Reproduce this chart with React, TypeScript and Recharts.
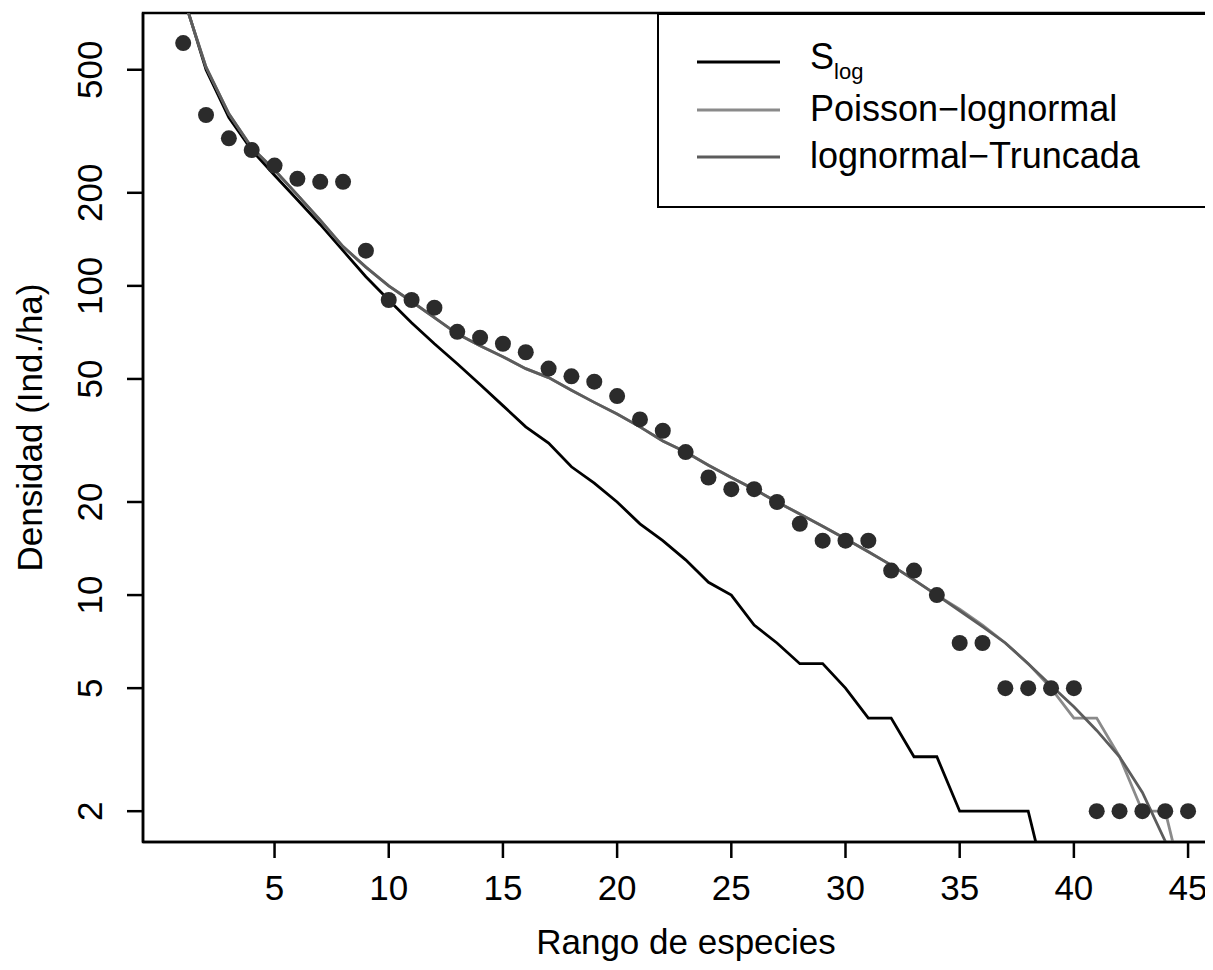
import React from 'react';
import { ComposedChart, Line, XAxis, YAxis, ReferenceArea, Legend } from 'recharts';

const ranks = [1, 2, 3, 4, 5, 6, 7, 8, 9, 10, 11, 12, 13, 14, 15, 16, 17, 18, 19, 20, 21, 22, 23, 24, 25, 26, 27, 28, 29, 30, 31, 32, 33, 34, 35, 36, 37, 38, 39, 40, 41, 42, 43, 44, 45];
const observed = [610, 357, 300, 275, 245, 222, 217, 217, 130, 90, 90, 85, 71, 68, 65, 61, 54, 51, 49, 44, 37, 34, 29, 24, 22, 22, 20, 17, 15, 15, 15, 12, 12, 10, 7, 7, 5, 5, 5, 5, 2, 2, 2, 2, 2];
const sLog = [870, 500, 350, 275, 228, 190, 158, 130, 107, 90, 76, 65, 56, 48, 41, 35, 31, 26, 23, 20, 17, 15, 13, 11, 10, 8, 7, 6, 6, 5, 4, 4, 3, 3, 2, 2, 2, 2, 1, 1, 1, 1, 1, 1, 1];
const poissonLognormal = [860, 510, 360, 280, 237, 197, 163, 134, 115, 100, 89, 79, 70, 64, 59, 54, 50.5, 46, 42, 38.5, 35, 31.5, 29, 26.3, 24, 22, 20, 18.3, 16.7, 15.2, 13.8, 12.5, 11.2, 10, 9, 8, 7, 6, 5, 4, 4, 3, 2, 2, 1];
const lognormalTruncada = [860, 510, 360, 280, 237, 197, 163, 134, 115, 100, 89, 79, 70, 64, 59, 54, 50.5, 46, 42, 38.5, 35, 31.5, 29, 26.3, 24, 22, 20, 18.3, 16.7, 15.2, 13.8, 12.5, 11.2, 10, 8.9, 7.9, 7.0, 6.0, 5.1, 4.35, 3.65, 3.0, 2.3, 1.6, 0.8];
const xTicks = [5, 10, 15, 20, 25, 30, 35, 40, 45];
const yTicks = [2, 5, 10, 20, 50, 100, 200, 500];

const data = ranks.map((r, i) => ({
  rank: r,
  obs: observed[i],
  slog: sLog[i],
  pln: poissonLognormal[i],
  lnt: lognormalTruncada[i],
}));

const FONT = '"Liberation Sans", Arial, Helvetica, sans-serif';
const FS = 35;
const X_MIN = -0.76;
const X_MAX = 48.5;
const CHART_W = 1285;
const LEGEND_W = 611;

const XTick = (props: any) => {
  const { x, payload } = props;
  return (
    <text x={x} y={892} textAnchor="middle" fontFamily={FONT} fontSize={FS} fill="#000">
      {payload.value}
    </text>
  );
};

const YTick = (props: any) => {
  const { y, payload } = props;
  const bx = 94;
  return (
    <text x={bx} y={y} transform={`rotate(-90 ${bx} ${y})`} textAnchor="middle" fontFamily={FONT} fontSize={FS} fill="#000">
      {payload.value}
    </text>
  );
};

const XTitle = () => (
  <text x={678} y={946} textAnchor="middle" fontFamily={FONT} fontSize={FS} fill="#000">
    Rango de especies
  </text>
);

const YTitle = () => (
  <text x={34} y={419.5} transform="rotate(-90 34 419.5)" textAnchor="middle" fontFamily={FONT} fontSize={FS} fill="#000">
    Densidad (Ind./ha)
  </text>
);

const legendRows = [
  { key: 'slog', color: '#000000', y: 49 },
  { key: 'pln', color: '#8a8a8a', y: 97, label: 'Poisson\u2212lognormal' },
  { key: 'lnt', color: '#5c5c5c', y: 144, label: 'lognormal\u2212Truncada' },
];

const LegendBox = () => (
  <div style={{ width: LEGEND_W, height: 195, boxSizing: 'border-box', border: '2.5px solid #000', background: '#fff', position: 'relative' }}>
    <svg width={LEGEND_W} height={195} style={{ position: 'absolute', left: -2.5, top: -2.5 }}>
      {legendRows.map((r) => (
        <g key={r.key}>
          <line x1={40} x2={123} y1={r.y} y2={r.y} stroke={r.color} strokeWidth={2.8} />
          {r.key === 'slog' ? (
            <text x={153} y={r.y + 7} fontFamily={FONT} fontSize={36} fill="#000">
              S<tspan fontSize={22} dy={10}>log</tspan>
            </text>
          ) : (
            <text x={153} y={r.y + 11} fontFamily={FONT} fontSize={36} fill="#000">
              {r.label}
            </text>
          )}
        </g>
      ))}
    </svg>
  </div>
);

export default function App() {
  return (
    <div style={{ width: 1205, height: 954, overflow: 'hidden' }}>
      <ComposedChart width={CHART_W} height={954} data={data} margin={{ top: 5, right: 25, bottom: 0, left: 0 }}>
        <XAxis
          type="number"
          dataKey="rank"
          domain={[X_MIN, X_MAX]}
          ticks={xTicks}
          interval={0}
          allowDataOverflow
          height={120}
          tickSize={16}
          axisLine={{ stroke: '#000', strokeWidth: 2.5 }}
          tickLine={{ stroke: '#000', strokeWidth: 2.5 }}
          tick={<XTick />}
          label={<XTitle />}
        />
        <YAxis
          type="number"
          scale="log"
          domain={[1.59, 763]}
          ticks={yTicks}
          interval={0}
          allowDataOverflow
          width={135}
          tickSize={16}
          axisLine={{ stroke: '#000', strokeWidth: 2.5 }}
          tickLine={{ stroke: '#000', strokeWidth: 2.5 }}
          tick={<YTick />}
          label={<YTitle />}
        />
        <ReferenceArea x1={X_MIN} x2={X_MAX} y1={1.59} y2={763} fill="none" stroke="#000" strokeWidth={2.5} ifOverflow="visible" />
        <Line dataKey="obs" stroke="transparent" strokeWidth={0} dot={{ r: 8, fill: '#2b2b2b', stroke: 'none' }} isAnimationActive={false} legendType="none" />
        <Line dataKey="slog" type="linear" stroke="#000000" strokeWidth={2.8} dot={false} isAnimationActive={false} />
        <Line dataKey="pln" type="linear" stroke="#8a8a8a" strokeWidth={2.8} dot={false} isAnimationActive={false} />
        <Line dataKey="lnt" type="linear" stroke="#5c5c5c" strokeWidth={2.8} dot={false} isAnimationActive={false} />
        <Legend
          layout="horizontal"
          verticalAlign="middle"
          align="center"
          wrapperStyle={{ position: 'absolute', top: 5, left: 649, width: LEGEND_W, height: 195 }}
          content={<LegendBox />}
        />
      </ComposedChart>
    </div>
  );
}
